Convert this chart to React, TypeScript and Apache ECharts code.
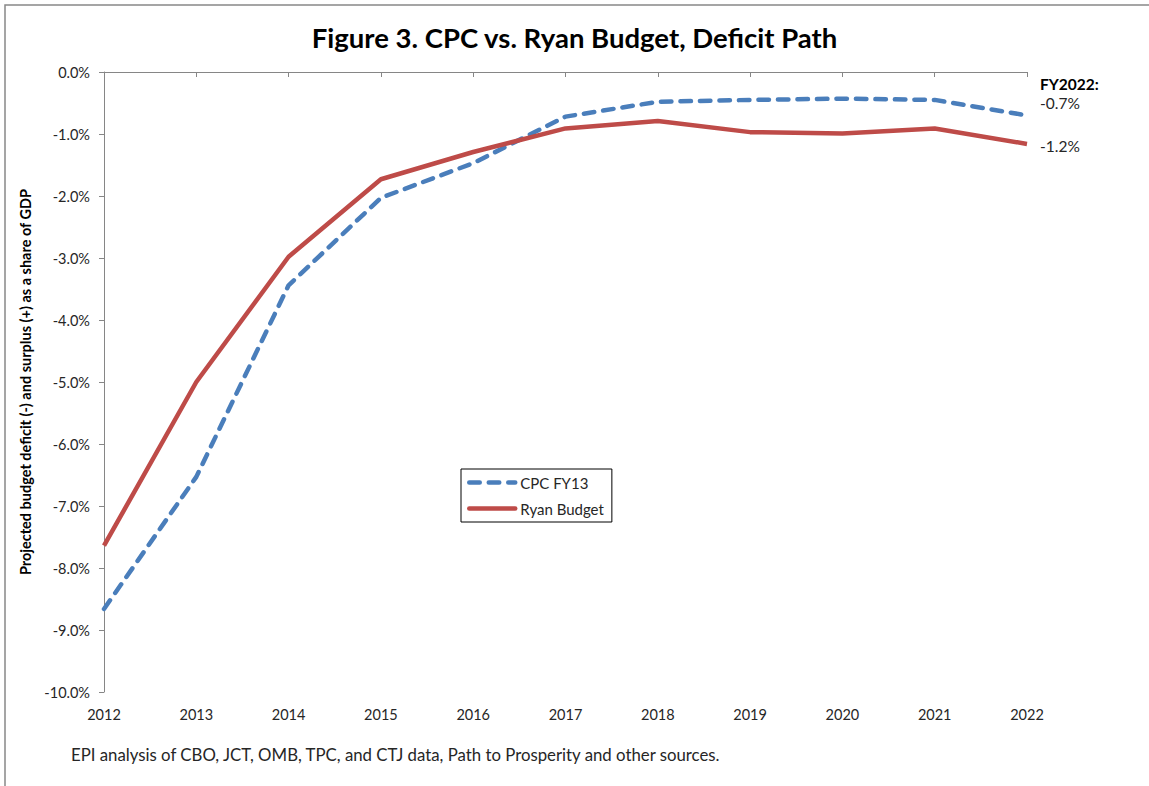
import React, { useEffect, useRef } from "react";
import * as echarts from "echarts";

const years = ["2012", "2013", "2014", "2015", "2016", "2017", "2018", "2019", "2020", "2021", "2022"];
const cpcFY13 = [-8.66, -6.53, -3.44, -2.03, -1.47, -0.72, -0.48, -0.45, -0.43, -0.45, -0.7];
const ryanBudget = [-7.64, -5.0, -2.98, -1.73, -1.29, -0.91, -0.79, -0.97, -0.99, -0.91, -1.16];
const endLabels = ["FY2022:", "-0.7%", "-1.2%"];

const FONT = "Lato, 'Open Sans', sans-serif";
const TXT = "#262626";

export default function App() {
  const ref = useRef<HTMLDivElement>(null);
  useEffect(() => {
    if (!ref.current) return;
    const chart = echarts.init(ref.current, undefined, { renderer: "svg" });
    chart.setOption({
      animation: false,
      backgroundColor: "#fff",
      textStyle: { fontFamily: FONT },
      title: {
        text: "Figure 3. CPC vs. Ryan Budget, Deficit Path",
        left: "center",
        top: 18,
        textStyle: { fontSize: 27.5, fontWeight: "bold", color: "#000", fontFamily: FONT },
      },
      grid: { left: 104, right: 122, top: 72, bottom: 94 },
      legend: {
        left: 461,
        top: 469,
        orient: "vertical",
        itemWidth: 46,
        itemHeight: 10,
        itemGap: 11,
        padding: [6, 8, 6, 6],
        borderColor: "#000",
        borderWidth: 1,
        itemStyle: { opacity: 0 },
        lineStyle: { width: 4.5, cap: "round" },
        textStyle: { fontSize: 15, color: TXT },
        data: ["CPC FY13", "Ryan Budget"],
      },
      xAxis: [
        {
          type: "category",
          data: years,
          position: "top",
          boundaryGap: false,
          axisLine: { lineStyle: { color: "#868686", width: 1 } },
          axisTick: { inside: true, length: 5, lineStyle: { color: "#868686" } },
          axisLabel: { show: false },
        },
        {
          type: "category",
          data: years,
          position: "bottom",
          boundaryGap: false,
          axisLine: { show: false },
          axisTick: { show: false },
          axisLabel: { fontSize: 14.5, color: TXT, margin: 15, fontFamily: FONT },
        },
      ],
      yAxis: {
        type: "value",
        min: -10,
        max: 0,
        interval: 1,
        name: "Projected budget deficit (-) and surplus (+) as a share of GDP",
        nameLocation: "middle",
        nameGap: 70,
        nameTextStyle: { fontSize: 14.5, fontWeight: "bold", color: "#000", fontFamily: FONT },
        axisLine: { show: true, lineStyle: { color: "#868686" } },
        axisTick: { show: true, length: 5, lineStyle: { color: "#868686" } },
        splitLine: { show: false },
        axisLabel: {
          fontSize: 14.5,
          color: TXT,
          margin: 14,
          formatter: (v: number) => v.toFixed(1) + "%",
        },
      },
      series: [
        {
          name: "CPC FY13",
          type: "line",
          data: cpcFY13,
          symbol: "none",
          lineStyle: { color: "#4A7EBB", width: 4.5, type: [10.5, 9], cap: "round" },
          itemStyle: { color: "#4A7EBB" },
        },
        {
          name: "Ryan Budget",
          type: "line",
          data: ryanBudget,
          symbol: "none",
          lineStyle: { color: "#BE4B48", width: 4.5 },
          itemStyle: { color: "#BE4B48" },
        },
      ],
      graphic: [
        {
          type: "rect",
          shape: { x: 5, y: 5, width: 1200, height: 900 },
          style: { fill: "none", stroke: "#888", lineWidth: 1.5 },
          silent: true,
        },
        {
          type: "text",
          left: 1040,
          top: 76,
          style: { text: endLabels[0], fontSize: 15.5, fontWeight: "bold", fill: "#000", fontFamily: FONT },
        },
        {
          type: "text",
          left: 1040,
          top: 95,
          style: { text: endLabels[1], fontSize: 15.5, fill: TXT, fontFamily: FONT },
        },
        {
          type: "text",
          left: 1040,
          top: 138,
          style: { text: endLabels[2], fontSize: 15.5, fill: TXT, fontFamily: FONT },
        },
        {
          type: "text",
          left: 71,
          top: 746,
          style: {
            text: "EPI analysis of CBO, JCT, OMB, TPC, and CTJ data, Path to Prosperity and other sources.",
            fontSize: 16.8,
            fill: TXT,
            fontFamily: FONT,
          },
        },
      ],
    });
    return () => chart.dispose();
  }, []);
  return (
    <div
      ref={ref}
      style={{ position: "fixed", left: 0, top: 0, width: 1149, height: 786, background: "#fff" }}
    />
  );
}
